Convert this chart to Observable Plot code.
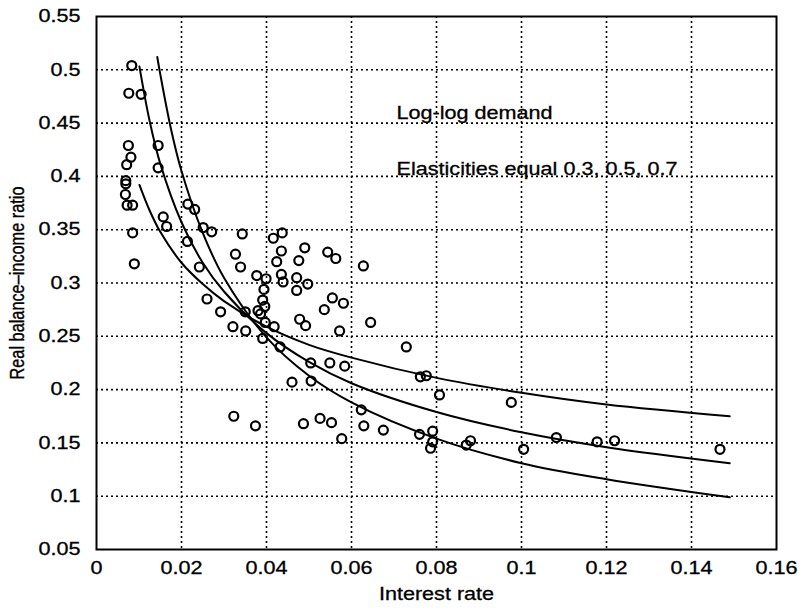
<!DOCTYPE html>
<html><head><meta charset="utf-8">
<script src="https://cdn.jsdelivr.net/npm/d3@7"></script>
<script src="https://cdn.jsdelivr.net/npm/@observablehq/plot@0.6"></script>
<style>
body{margin:0;background:#fff}
#chart svg{display:block}
#chart svg text{stroke:#000;stroke-width:0.3px}
#chart g[aria-label="y-axis label"] text{font-size:16.3px}
</style>
</head><body><div id="chart"></div><script>
// Observed data: interest rate vs real balance–income ratio
const rates = [0.0083,0.0076,0.0105,0.0075,0.0145,0.0081,0.0071,0.0145,0.0069,0.0069,0.0068,0.0072,0.0085,0.0215,0.0231,0.0157,0.0165,0.0085,0.0251,0.0271,0.0214,0.0343,0.0416,0.0437,0.0089,0.0327,0.0339,0.0242,0.0435,0.0424,0.0377,0.0399,0.0435,0.0439,0.0394,0.026,0.0391,0.038,0.0396,0.0386,0.0292,0.035,0.0397,0.0418,0.0321,0.0351,0.0391,0.0432,0.046,0.049,0.0476,0.0544,0.0563,0.0628,0.0471,0.0497,0.0471,0.0555,0.0536,0.0581,0.0478,0.0492,0.0645,0.0572,0.0504,0.0549,0.0584,0.0505,0.0623,0.0323,0.0374,0.0487,0.0526,0.0553,0.0629,0.0675,0.0577,0.0729,0.0762,0.0776,0.0807,0.0976,0.076,0.0791,0.0791,0.0786,0.087,0.088,0.1005,0.1082,0.1178,0.1219,0.1467];
const ratios = [0.504,0.478,0.477,0.429,0.429,0.418,0.411,0.408,0.396,0.393,0.383,0.373,0.373,0.374,0.369,0.362,0.353,0.347,0.352,0.348,0.339,0.346,0.342,0.347,0.318,0.327,0.315,0.315,0.330,0.320,0.307,0.304,0.308,0.301,0.294,0.285,0.284,0.274,0.278,0.271,0.273,0.273,0.263,0.259,0.259,0.255,0.248,0.240,0.207,0.333,0.321,0.329,0.323,0.316,0.305,0.299,0.293,0.286,0.275,0.281,0.266,0.260,0.263,0.255,0.225,0.225,0.222,0.208,0.181,0.175,0.166,0.168,0.173,0.169,0.166,0.162,0.154,0.240,0.212,0.213,0.195,0.188,0.158,0.161,0.151,0.145,0.148,0.152,0.144,0.155,0.151,0.152,0.144];

// Log-log demand curves
const curveRates = [0.0101,0.0125,0.015,0.02,0.025,0.03,0.04,0.05,0.06,0.08,0.1,0.12,0.149];
const curveRates07 = [0.0143,0.015,0.0175,0.02,0.025,0.03,0.04,0.05,0.06,0.08,0.1,0.12,0.149];
const demand03 = [0.392,0.368,0.348,0.319,0.299,0.283,0.259,0.242,0.230,0.211,0.197,0.186,0.175];
const demand05 = [0.503,0.452,0.412,0.357,0.319,0.292,0.253,0.226,0.206,0.179,0.160,0.146,0.131];
const demand07 = [0.512,0.496,0.445,0.405,0.347,0.305,0.249,0.213,0.188,0.154,0.131,0.116,0.099];

const xTicks = [0,0.02,0.04,0.06,0.08,0.1,0.12,0.14,0.16];
const yTicks = [0.05,0.1,0.15,0.2,0.25,0.3,0.35,0.4,0.45,0.5,0.55];
const xGridTicks = [0.02,0.04,0.06,0.08,0.1,0.12,0.14];
const yGridTicks = [0.1,0.15,0.2,0.25,0.3,0.35,0.4,0.45,0.5];

const noteTexts = ["Log-log demand","Elasticities equal 0.3, 0.5, 0.7"];
const noteRates = [0.0706,0.0706];
const noteRatios = [0.459,0.407];

const points = rates.map((r,i)=>({rate:r, ratio:ratios[i]}));
const curves = [
  {rates: curveRates, vals: demand03},
  {rates: curveRates, vals: demand05},
  {rates: curveRates07, vals: demand07}
].flatMap((c,k)=>c.rates.map((r,i)=>({k, rate:r, ratio:c.vals[i]})));
const notes = noteTexts.map((t,i)=>({t, rate:noteRates[i], ratio:noteRatios[i]}));

const font = "'Liberation Sans', Arial, Helvetica, sans-serif";
const chart = Plot.plot({
  width: 798, height: 608,
  marginTop: 16, marginRight: 22, marginBottom: 59, marginLeft: 96,
  style: {fontFamily: font, fontSize: "18px", color: "#000", background: "#fff"},
  x: {domain: [0, 0.16]},
  y: {domain: [0.05, 0.55]},
  marks: [
    Plot.gridX(xGridTicks, {stroke: "#000", strokeOpacity: 1, strokeWidth: 1.6, strokeDasharray: "2,3"}),
    Plot.gridY(yGridTicks, {stroke: "#000", strokeOpacity: 1, strokeWidth: 1.6, strokeDasharray: "2,3"}),
    Plot.axisX(xTicks, {tickSize: 0, tickPadding: 12, tickFormat: d => String(d), fontSize: 18,
      label: "Interest rate", labelAnchor: "center", labelArrow: "none", labelOffset: 50}),
    Plot.axisY(yTicks, {tickSize: 0, tickPadding: 16, tickFormat: d => String(d), fontSize: 18,
      label: "Real balance\u2013income ratio", labelAnchor: "center", labelArrow: "none", labelOffset: 86}),
    Plot.line(curves, {x: "rate", y: "ratio", z: "k", stroke: "#000", strokeWidth: 2, curve: "catmull-rom"}),
    Plot.dot(points, {x: "rate", y: "ratio", r: 4.5, stroke: "#000", strokeWidth: 2.2, fill: "none"}),
    Plot.text(notes, {x: "rate", y: "ratio", text: "t", textAnchor: "start", fontSize: 18, fill: "#000"}),
    Plot.frame({stroke: "#000", strokeWidth: 2})
  ]
});
// The reference's lettering is horizontally widened; stretch text around its anchor.
chart.querySelectorAll("text").forEach(t => {
  const tr = t.getAttribute("transform") || "";
  if (tr.includes("rotate")) {
    t.setAttribute("transform", `${tr} scale(1,1.2)`);
    return;
  }
  const x = parseFloat(t.getAttribute("x")) || 0;
  const y = t.getAttribute("y");
  const yNum = y && !/em$/.test(y) ? parseFloat(y) : 0;
  if (x || yNum) {
    t.setAttribute("x", 0);
    if (yNum) t.setAttribute("y", 0);
  }
  t.setAttribute("transform", `${tr} translate(${x},${yNum}) scale(1.2,1)`);
});
document.getElementById("chart").append(chart);
</script></body></html>
